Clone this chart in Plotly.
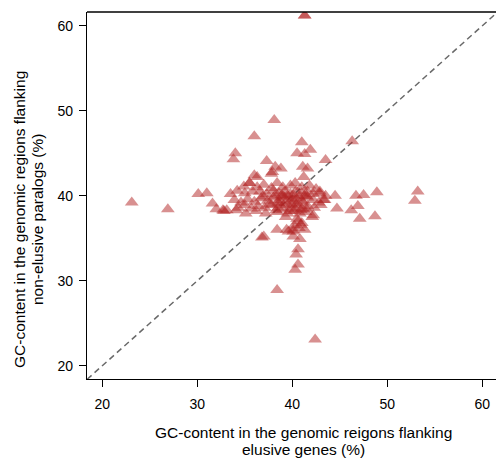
import plotly.graph_objects as go

# GC-content (%) flanking elusive genes (x) and non-elusive paralogs (y)
elusive_gc = [
    41.3, 41.3, 23.1, 26.9, 30.1, 31.0, 31.6, 32.0, 32.7, 32.8, 33.9, 34.1, 35.1,
    33.8, 34.0, 36.0, 38.1, 41.0, 40.5, 41.3, 41.9, 46.3, 43.5, 37.3, 37.9, 38.2,
    38.8, 41.1, 41.6, 41.2, 36.3, 35.5, 34.9, 44.5, 46.7, 47.5, 48.9, 53.2, 52.9,
    44.7, 46.2, 46.9, 47.1, 48.7, 43.3, 42.9, 38.4, 39.4, 40.1, 41.3, 36.8, 40.8,
    40.6, 40.4, 40.6, 40.3, 38.4, 42.4, 42.1, 39.3, 37.2, 33.1, 37.8, 36.0,
    # dense core
    35.5, 36.3, 37.0, 38.4, 39.0, 39.8, 40.3, 41.0, 41.8, 42.5,
    33.5, 34.2, 35.0, 35.8, 36.6, 37.3, 38.0, 38.6, 39.2, 39.8, 40.4, 41.0, 41.6, 42.2, 42.9, 43.5,
    34.6, 35.3, 36.0, 36.7, 37.4, 38.0, 38.6, 39.2, 39.8, 40.4, 41.0, 41.6, 42.2, 42.8, 43.4,
    34.3, 35.0, 35.7, 36.4, 37.1, 37.8, 38.5, 39.1, 39.8, 40.4, 41.0, 41.6, 42.3, 43.0,
    36.2, 38.4, 39.5, 40.2, 40.8, 41.4, 42.2,
    40.5, 41.0, 40.2, 40.7, 39.6, 40.1, 37.0, 40.1, 38.5, 39.0, 40.0, 41.5,
    38.2, 38.9, 39.5, 40.1, 40.7, 41.3, 38.6, 39.3, 39.9, 40.5, 41.1, 37.6, 38.3,
    39.0, 39.7, 40.3, 40.9, 41.5, 40.6, 40.9, 36.9, 37.8,
]
paralog_gc = [
    61.2, 61.2, 39.2, 38.4, 40.2, 40.3, 39.1, 38.4, 38.3, 38.2, 39.5, 38.3, 37.9,
    44.3, 45.0, 47.0, 48.9, 46.3, 45.0, 44.9, 45.4, 46.4, 44.2, 44.1, 42.8, 43.4,
    43.2, 43.4, 43.2, 42.2, 42.2, 41.5, 41.1, 40.0, 40.0, 40.1, 40.4, 40.5, 39.4,
    38.5, 38.3, 38.8, 37.3, 37.6, 39.5, 40.3, 36.0, 36.0, 35.8, 36.0, 35.1, 34.9,
    33.7, 33.1, 31.9, 31.3, 28.9, 23.1, 37.5, 37.5, 37.9, 38.3, 42.6, 42.4,
    # dense core
    41.5, 41.0, 41.3, 41.5, 41.0, 41.2, 41.5, 41.0, 41.2, 40.8,
    40.2, 40.6, 40.3, 40.5, 40.5, 40.2, 40.6, 40.3, 40.5, 40.2, 40.6, 40.3, 40.5, 40.2, 40.5, 40.0,
    39.2, 39.6, 39.3, 39.7, 39.4, 39.8, 39.5, 39.8, 39.4, 39.7, 39.4, 39.8, 39.5, 39.2, 39.5,
    38.6, 38.9, 38.5, 38.8, 38.6, 38.9, 38.6, 38.9, 38.6, 38.9, 38.5, 38.8, 38.6, 38.9,
    38.2, 38.1, 37.9, 38.2, 37.9, 38.1, 37.7,
    37.3, 36.8, 36.5, 36.2, 35.8, 35.2, 35.2, 36.0, 39.2, 39.9, 39.6, 40.0,
    40.0, 40.1, 40.0, 40.1, 39.9, 40.0, 39.1, 39.2, 39.0, 39.1, 39.2, 39.0, 38.3,
    38.4, 38.2, 38.4, 38.3, 38.4, 37.0, 36.6, 39.9, 40.9,
]
diag = [18.4, 61.6]

tick_vals = [20, 30, 40, 50, 60]
x_title = ["GC-content in the genomic reigons flanking", "elusive genes (%)"]
y_title = ["GC-content in the genomic regions flanking", "non-elusive paralogs (%)"]

W, H = 496, 462
L, R, T, B = 87, 0, 12, 83
pw, ph = W - L - R, H - T - B

fig = go.Figure()
fig.add_trace(go.Scatter(
    x=diag, y=diag, mode="lines",
    line=dict(color="rgb(105,105,105)", width=1.5, dash="6px,4px"),
    hoverinfo="skip", showlegend=False,
))
fig.add_trace(go.Scatter(
    x=elusive_gc, y=paralog_gc, mode="markers",
    marker=dict(symbol="triangle-up", size=12, color="rgba(178,34,34,0.5)",
                line=dict(width=0)),
    showlegend=False, cliponaxis=True,
))

font = dict(family="Liberation Sans, Arial, sans-serif", color="black")
axis_common = dict(tickvals=tick_vals, ticks="outside", ticklen=7,
                   tickcolor="black", tickwidth=1, showgrid=False, zeroline=False,
                   showline=True, linecolor="black", linewidth=1.3,
                   tickfont=dict(**font, size=14), automargin=False)
fig.update_layout(
    width=W, height=H,
    margin=dict(l=L, r=R, t=T, b=B, autoexpand=False),
    paper_bgcolor="white", plot_bgcolor="white",
    font=dict(**font, size=14),
    xaxis=dict(range=[18.39, 61.44], ticklabelstandoff=5, **axis_common),
    yaxis=dict(range=[18.44, 61.62], ticklabelstandoff=3, **axis_common),
)
# top border of the box
fig.add_shape(type="line", xref="paper", yref="paper", x0=0, x1=1, y0=1, y1=1,
              line=dict(color="black", width=1.3))

def px_x(p):
    return (p - L) / pw

def px_y(p):
    return (H - B - p) / ph

for txt, yc in zip(x_title, [432, 449]):
    fig.add_annotation(text=txt, xref="paper", yref="paper", x=px_x(303), y=px_y(yc),
                       xanchor="center", yanchor="middle", showarrow=False,
                       font=dict(**font, size=15.5))
for txt, xc in zip(y_title, [20, 38]):
    fig.add_annotation(text=txt, xref="paper", yref="paper", x=px_x(xc), y=px_y(220),
                       xanchor="center", yanchor="middle", showarrow=False, textangle=-90,
                       font=dict(**font, size=15.5))

fig.write_html("out.html", config={"displayModeBar": False},
               post_script="document.body.style.margin='0';document.body.style.overflow='hidden';")
